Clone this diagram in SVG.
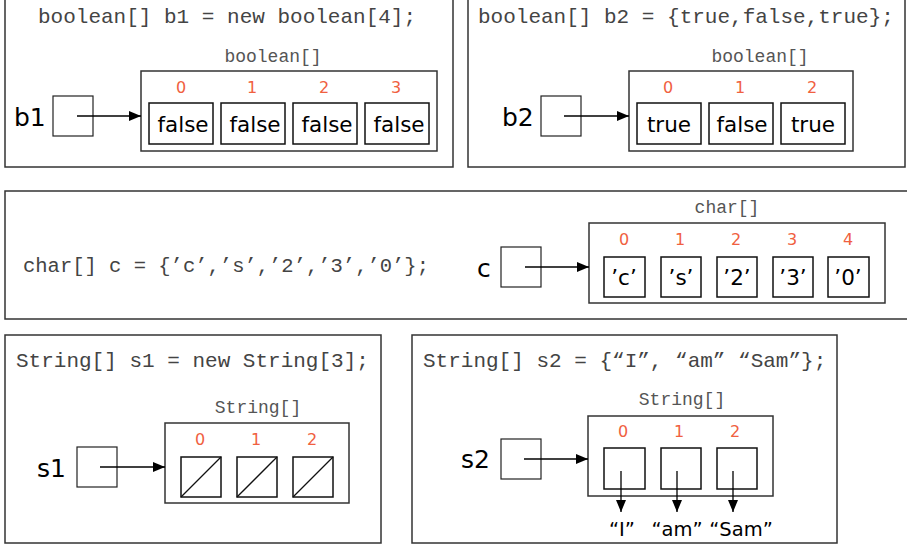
<svg xmlns="http://www.w3.org/2000/svg" width="907" height="546" viewBox="0 0 907 546">
<defs>
<marker id="ah" markerWidth="12" markerHeight="10" refX="12" refY="5" orient="auto" markerUnits="userSpaceOnUse">
<path d="M0,0 L12,5 L0,10 Z" fill="#000"/>
</marker>
<style>
.panel{fill:#fff;stroke:#333;stroke-width:1.5}
.arr{fill:#fff;stroke:#333;stroke-width:1.5}
.cell{fill:#fff;stroke:#111;stroke-width:1.5}
.var{fill:#fff;stroke:#222;stroke-width:1.2}
.code{font-family:"Liberation Mono",monospace;font-size:21px;fill:#444}
.type{font-family:"Liberation Mono",monospace;font-size:18px;fill:#555;text-anchor:middle}
.idx{font-family:"DejaVu Sans",sans-serif;font-size:16px;fill:#f06040;text-anchor:middle}
.val{font-family:"DejaVu Sans",sans-serif;font-size:21.5px;fill:#000;text-anchor:middle}
.str{font-family:"DejaVu Sans",sans-serif;font-size:19.5px;fill:#000;text-anchor:middle}
.name{font-family:"DejaVu Sans",sans-serif;font-size:25px;fill:#000}
.conn{stroke:#000;stroke-width:1.3;fill:none;marker-end:url(#ah)}
.slash{stroke:#111;stroke-width:1.3}
</style>
</defs>
<rect width="907" height="546" fill="#fff"/>

<g id="panel-b1">
<rect class="panel" x="5" y="-2" width="448" height="169"/>
<text class="code" x="38" y="23">boolean[] b1 = new boolean[4];</text>
<text class="name" x="14" y="126">b1</text>
<rect class="var" x="53" y="96" width="40" height="40"/>
</g>
<g id="array-b1">
<text class="type" x="273" y="62">boolean[]</text>
<rect class="arr" x="141" y="71" width="296" height="80"/>
<text class="idx" x="181" y="93">0</text>
<text class="idx" x="252" y="93">1</text>
<text class="idx" x="324" y="93">2</text>
<text class="idx" x="396" y="93">3</text>
<rect class="cell" x="149" y="103" width="64" height="41"/>
<rect class="cell" x="221" y="103" width="64" height="41"/>
<rect class="cell" x="293" y="103" width="64" height="41"/>
<rect class="cell" x="365" y="103" width="64" height="41"/>
<text class="val" x="183" y="132">false</text>
<text class="val" x="255" y="132">false</text>
<text class="val" x="327" y="132">false</text>
<text class="val" x="399" y="132">false</text>
</g>

<g id="panel-b2">
<rect class="panel" x="468" y="-2" width="437" height="169"/>
<text class="code" x="478" y="23">boolean[] b2 = {true,false,true};</text>
<text class="name" x="502" y="126">b2</text>
<rect class="var" x="541" y="96" width="40" height="40"/>
</g>
<g id="array-b2">
<text class="type" x="760" y="62">boolean[]</text>
<rect class="arr" x="629" y="71" width="224" height="80"/>
<text class="idx" x="668" y="93">0</text>
<text class="idx" x="740" y="93">1</text>
<text class="idx" x="812" y="93">2</text>
<rect class="cell" x="637" y="103" width="64" height="41"/>
<rect class="cell" x="709" y="103" width="64" height="41"/>
<rect class="cell" x="781" y="103" width="64" height="41"/>
<text class="val" x="669" y="132">true</text>
<text class="val" x="742" y="132">false</text>
<text class="val" x="813" y="132">true</text>
</g>

<g id="panel-c">
<rect class="panel" x="5" y="191" width="910" height="128"/>
<text class="code" x="23" y="272" style="font-size:20.5px">char[] c = {’c’,’s’,’2’,’3’,’0’};</text>
<text class="name" x="477" y="277">c</text>
<rect class="var" x="501" y="247" width="40" height="40"/>
</g>
<g id="array-c">
<text class="type" x="727" y="213">char[]</text>
<rect class="arr" x="589" y="223" width="296" height="80"/>
<text class="idx" x="624" y="245">0</text>
<text class="idx" x="680" y="245">1</text>
<text class="idx" x="736" y="245">2</text>
<text class="idx" x="792" y="245">3</text>
<text class="idx" x="848" y="245">4</text>
<rect class="cell" x="604" y="257" width="41" height="40"/>
<rect class="cell" x="661" y="257" width="40" height="40"/>
<rect class="cell" x="717" y="257" width="40" height="40"/>
<rect class="cell" x="773" y="257" width="40" height="40"/>
<rect class="cell" x="828" y="257" width="41" height="40"/>
<text class="val" x="624" y="285">’c’</text>
<text class="val" x="681" y="285">’s’</text>
<text class="val" x="737" y="285">’2’</text>
<text class="val" x="793" y="285">’3’</text>
<text class="val" x="848" y="285">’0’</text>
</g>

<g id="panel-s1">
<rect class="panel" x="5" y="335" width="376" height="208"/>
<text class="code" x="16" y="367">String[] s1 = new String[3];</text>
<text class="name" x="37" y="477">s1</text>
<rect class="var" x="77" y="447" width="40" height="40"/>
</g>
<g id="array-s1">
<text class="type" x="258" y="413">String[]</text>
<rect class="arr" x="165" y="423" width="184" height="80"/>
<text class="idx" x="200" y="445">0</text>
<text class="idx" x="256" y="445">1</text>
<text class="idx" x="312" y="445">2</text>
<rect class="cell" x="181" y="457" width="40" height="40"/>
<rect class="cell" x="237" y="457" width="40" height="40"/>
<rect class="cell" x="293" y="457" width="40" height="40"/>
<line class="slash" x1="181" y1="497" x2="221" y2="457"/>
<line class="slash" x1="237" y1="497" x2="277" y2="457"/>
<line class="slash" x1="293" y1="497" x2="333" y2="457"/>
</g>

<g id="panel-s2">
<rect class="panel" x="412" y="335" width="425" height="208"/>
<text class="code" x="423" y="367">String[] s2 = {“I”, “am” “Sam”};</text>
<text class="name" x="461" y="468">s2</text>
<rect class="var" x="501" y="439" width="40" height="40"/>
</g>
<g id="array-s2">
<text class="type" x="682" y="405">String[]</text>
<rect class="arr" x="588" y="416" width="185" height="80"/>
<text class="idx" x="623" y="437">0</text>
<text class="idx" x="679" y="437">1</text>
<text class="idx" x="735" y="437">2</text>
<rect class="cell" x="604" y="448" width="41" height="41"/>
<rect class="cell" x="661" y="448" width="40" height="41"/>
<rect class="cell" x="717" y="448" width="40" height="41"/>
</g>
<g id="strings">
<text class="str" x="622" y="536">“I”</text>
<text class="str" x="677" y="536">“am”</text>
<text class="str" x="741" y="536">“Sam”</text>
</g>

<g id="connectors">
<line class="conn" x1="77" y1="116" x2="141" y2="116"/>
<line class="conn" x1="564" y1="116" x2="629" y2="116"/>
<line class="conn" x1="525" y1="267" x2="589" y2="267"/>
<line class="conn" x1="100" y1="467" x2="165" y2="467"/>
<line class="conn" x1="524" y1="459" x2="588" y2="459"/>
<line class="conn" x1="621" y1="471" x2="621" y2="512"/>
<line class="conn" x1="677" y1="471" x2="677" y2="512"/>
<line class="conn" x1="733" y1="471" x2="733" y2="512"/>
</g>
</svg>
